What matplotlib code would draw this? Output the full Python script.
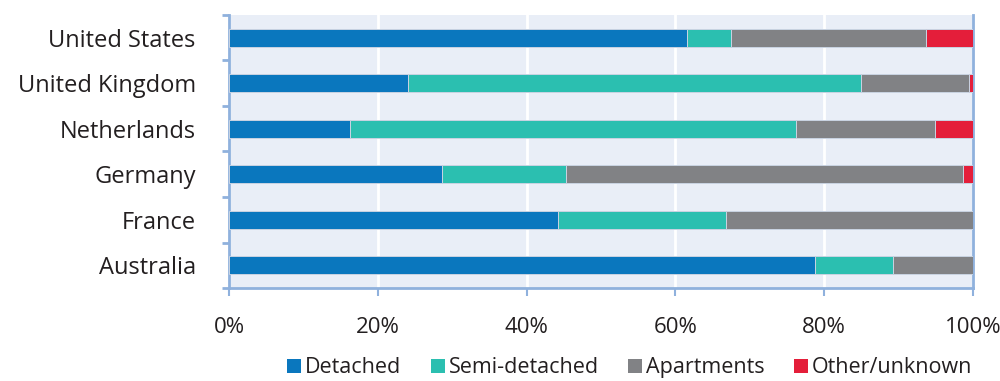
import matplotlib.pyplot as plt
from matplotlib.lines import Line2D
from matplotlib.ticker import FixedLocator, PercentFormatter

# Countries from bottom to top
countries = ['Australia', 'France', 'Germany', 'Netherlands',
             'United Kingdom', 'United States']

# Share of dwellings by type (fraction)
detached = [0.787, 0.442, 0.286, 0.162, 0.240, 0.616]
semi_detached = [0.105, 0.226, 0.167, 0.600, 0.609, 0.059]
apartments = [0.108, 0.332, 0.533, 0.187, 0.145, 0.262]
other = [0.000, 0.000, 0.014, 0.051, 0.006, 0.063]

series = [('Detached', detached, '#0a77be'),
          ('Semi-detached', semi_detached, '#2bbfb0'),
          ('Apartments', apartments, '#818285'),
          ('Other/unknown', other, '#e41e3a')]

plt.rcParams['font.family'] = ['Open Sans', 'DejaVu Sans']
text_color = '#231f20'
axis_color = '#8fb1dd'

fig = plt.figure(figsize=(10, 3.81), dpi=100)
ax = fig.add_axes([0.229, 0.244, 0.744, 0.717])
ax.set_facecolor('#e9eef7')

left = [0.0] * len(countries)
for name, vals, color in series:
    ax.barh(range(len(countries)), vals, left=left, height=0.4,
            color=color, edgecolor='#c9d3e2', linewidth=0.7, zorder=3)
    left = [l + v for l, v in zip(left, vals)]

ax.set_xlim(0, 1)
ax.set_ylim(-0.5, len(countries) - 0.5)

# Gridlines
ax.xaxis.set_major_locator(FixedLocator([0, 0.2, 0.4, 0.6, 0.8, 1.0]))
ax.xaxis.set_major_formatter(PercentFormatter(1.0, decimals=0))
ax.grid(axis='x', color='white', linewidth=2, zorder=1)
ax.set_axisbelow(True)

ax.set_yticks(range(len(countries)))
ax.set_yticklabels(countries)
ax.yaxis.set_minor_locator(FixedLocator([i - 0.5 for i in range(len(countries) + 1)]))
ax.tick_params(axis='y', which='major', length=0, pad=24,
               labelsize=17, labelcolor=text_color)
ax.tick_params(axis='y', which='minor', length=5, width=2, color=axis_color)
ax.tick_params(axis='x', which='major', length=6, width=1.5, color=axis_color,
               pad=15, labelsize=16, labelcolor=text_color)

for side in ['top']:
    ax.spines[side].set_visible(False)
for side in ['left', 'right', 'bottom']:
    ax.spines[side].set_color(axis_color)
    ax.spines[side].set_linewidth(2)

handles = [Line2D([], [], marker='s', linestyle='none', markersize=10,
                  color=c, markeredgewidth=0) for _, _, c in series]
labels = [name for name, _, _ in series]
fig.legend(handles, labels, loc='center', bbox_to_anchor=(0.63, 0.035),
           ncol=4, frameon=False, fontsize=15.5, handlelength=0.6,
           handletextpad=0.2, columnspacing=1.4, labelcolor=text_color)

fig.savefig('out.png', dpi=100)
